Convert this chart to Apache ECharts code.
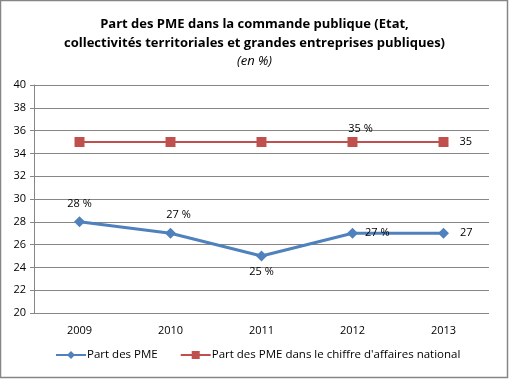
<!DOCTYPE html>
<html><head><meta charset="utf-8">
<script src="https://cdn.jsdelivr.net/npm/echarts@6/dist/echarts.min.js"></script>
<style>html,body{margin:0;padding:0;background:#fff}#c{width:509px;height:379px}</style>
</head><body><div id="c"></div>
<script>
const years = ['2009','2010','2011','2012','2013'];
const partPME = [28, 27, 25, 27, 27];
const partCA = [35, 35, 35, 35, 35];
const pmeLabels = ['28 %','27 %','25 %','27 %','27'];
const caLabels = ['','','','35 %','35'];
const yTicks = [20,22,24,26,28,30,32,34,36,38,40];

const pmePos = [{position:'top',offset:[0,-2]},{position:'top',offset:[8,-2]},{position:'bottom',offset:[0,0]},{position:'right',offset:[2,0]},{position:'right',offset:[6,0]}];
const caPos = [null,null,null,{position:'top',offset:[8,2]},{position:'right',offset:[6,0]}];

const font = 'Open Sans';
const chart = echarts.init(document.getElementById('c'));
chart.setOption({
  animation:false,
  textStyle:{fontFamily:font},
  title:{
    text:'Part des PME dans la commande publique (Etat,\ncollectivités territoriales et grandes entreprises publiques)',
    subtext:'(en %)',
    left:'center', top:10, itemGap:2,
    textStyle:{fontFamily:font,fontSize:13,fontWeight:'bold',color:'#000',lineHeight:19},
    subtextStyle:{fontFamily:font,fontSize:13,fontStyle:'italic',color:'#000'}
  },
  graphic:[{type:'rect',shape:{x:0.5,y:0.5,width:507,height:377},style:{fill:'none',stroke:'#868686',lineWidth:1.5}}],
  grid:{left:34,right:20,top:85,bottom:66},
  legend:{
    orient:'horizontal',bottom:13,left:50,width:470,itemGap:22,itemWidth:30,itemHeight:10,
    textStyle:{fontFamily:font,fontSize:11.5,color:'#000',padding:[0,0,0,-4]},
    data:['Part des PME','Part des PME dans le chiffre d\'affaires national']
  },
  xAxis:{type:'category',data:years,boundaryGap:true,
    axisLine:{show:false},axisTick:{show:false},
    axisLabel:{fontFamily:font,fontSize:11,color:'#000',margin:12}},
  yAxis:{type:'value',min:20,max:40,interval:2,
    axisLine:{show:true,lineStyle:{color:'#868686'}},
    axisTick:{show:true,length:4,lineStyle:{color:'#868686'}},
    splitLine:{show:true,lineStyle:{color:'#868686',width:1}},
    axisLabel:{fontFamily:font,fontSize:11,color:'#000',margin:8,
      formatter:v=>yTicks.includes(v)?String(v):''}},
  series:[
    {name:'Part des PME',type:'line',symbol:'diamond',symbolSize:11,
     itemStyle:{color:'#4F81BD'},lineStyle:{color:'#4F81BD',width:3},
     data:partPME.map((v,i)=>({value:v,label:Object.assign({show:true,formatter:pmeLabels[i],fontFamily:font,fontSize:11,color:'#000'},pmePos[i])}))},
    {name:'Part des PME dans le chiffre d\'affaires national',type:'line',symbol:'rect',symbolSize:10,
     itemStyle:{color:'#C0504D'},lineStyle:{color:'#C0504D',width:2},
     data:partCA.map((v,i)=>({value:v,label:caPos[i]?Object.assign({show:true,formatter:caLabels[i],fontFamily:font,fontSize:11,color:'#000'},caPos[i]):{show:false}}))}
  ]
});
</script></body></html>
